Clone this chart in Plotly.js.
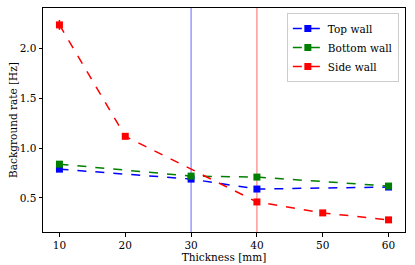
<!DOCTYPE html>
<html><head><meta charset="utf-8">
<script src="https://cdn.plot.ly/plotly-3.0.1.min.js"></script>
<style>html,body{margin:0;padding:0;background:#fff}</style>
</head><body><div id="chart" style="width:415px;height:265px"></div>
<script>
var topX = [10, 30, 40, 60];
var topY = [0.79, 0.69, 0.59, 0.61];
var topErr = [0.02, 0.02, 0.02, 0.02];
var bottomX = [10, 30, 40, 60];
var bottomY = [0.84, 0.72, 0.71, 0.62];
var bottomErr = [0.02, 0.02, 0.02, 0.02];
var sideX = [10, 20, 40, 50, 60];
var sideY = [2.24, 1.12, 0.46, 0.35, 0.28];
var sideErr = [0.05, 0.03, 0.02, 0.02, 0.02];
var xTicks = [10, 20, 30, 40, 50, 60];
var yTicks = [0.5, 1.0, 1.5, 2.0];
var vlineBlue = 30, vlineRed = 40;

function tr(x, y, e, name, color) {
  return {x: x, y: y, name: name, type: 'scatter', mode: 'lines+markers',
    line: {color: color, dash: 'dash', width: 1.5},
    marker: {symbol: 'square', size: 7, color: color},
    error_y: {type: 'data', array: e, visible: true, color: color, thickness: 1.5, width: 0}};
}
var data = [
  tr(topX, topY, topErr, 'Top wall', 'blue'),
  tr(bottomX, bottomY, bottomErr, 'Bottom wall', 'green'),
  tr(sideX, sideY, sideErr, 'Side wall', 'red')
];
var font = {family: '"DejaVu Serif", "Liberation Serif", serif', size: 10.5, color: '#000'};
var layout = {
  width: 415, height: 265,
  margin: {l: 43, r: 10, t: 8, b: 33},
  paper_bgcolor: '#fff', plot_bgcolor: '#fff',
  font: font,
  showlegend: true,
  legend: {x: 0.983, y: 0.978, xanchor: 'right', yanchor: 'top', bgcolor: 'rgba(255,255,255,0.8)',
    bordercolor: '#ccc', borderwidth: 1, font: font, tracegroupgap: 0, itemwidth: 30},
  xaxis: {range: [7.5, 62.5], tickvals: xTicks, ticktext: xTicks.map(String), ticks: 'outside', ticklen: 3.5,
    tickcolor: '#000', showgrid: false, zeroline: false, showline: true, mirror: true, linecolor: '#000', linewidth: 1,
    title: {text: 'Thickness [mm]', font: font, standoff: 1}},
  yaxis: {range: [0.158, 2.41], tickvals: yTicks, ticktext: yTicks.map(function(v){return v.toFixed(1);}), ticks: 'outside', ticklen: 3.5,
    tickcolor: '#000', showgrid: false, zeroline: false, showline: true, mirror: true, linecolor: '#000', linewidth: 1,
    title: {text: 'Background rate [Hz]', font: font, standoff: 0}},
  shapes: [
    {type: 'line', xref: 'x', yref: 'paper', x0: vlineBlue, x1: vlineBlue, y0: 0, y1: 1, line: {color: 'rgba(0,0,255,0.5)', width: 1.2}, layer: 'below'},
    {type: 'line', xref: 'x', yref: 'paper', x0: vlineRed, x1: vlineRed, y0: 0, y1: 1, line: {color: 'rgba(255,0,0,0.5)', width: 1.2}, layer: 'below'}
  ]
};
Plotly.newPlot('chart', data, layout, {staticPlot: true, displayModeBar: false});
</script></body></html>
